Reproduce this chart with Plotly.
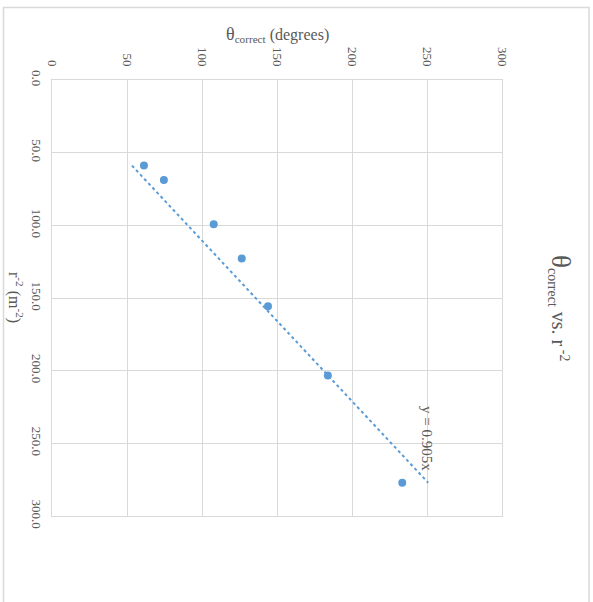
import plotly.graph_objects as go

# Measurements: inverse-square distance and corrected deflection angle
r_inv_sq = [58.9, 68.8, 99.2, 122.9, 155.6, 203.3, 277.1]
theta_correct = [61.3, 74.6, 107.8, 126.5, 144.0, 183.9, 233.5]

# Linear fit through the origin
slope = 0.905
trend_r = [min(r_inv_sq), max(r_inv_sq)]
trend_theta = [slope * v for v in trend_r]

theta_ticks = [0, 50, 100, 150, 200, 250, 300]
r_ticks = [0, 50, 100, 150, 200, 250, 300]

W, H = 593, 602
ML, MR, MT, MB = 52, 91, 80, 86
PW, PH = W - ML - MR, H - MT - MB


def px_x(x):
    return (x - ML) / PW


def px_y(y):
    return (H - MB - y) / PH


BLUE = "#5b9bd5"
GREY = "#595959"
GRID = "#d9d9d9"
FONT = "Liberation Serif"

fig = go.Figure()

fig.add_trace(go.Scatter(
    x=trend_theta, y=trend_r, mode="lines",
    line=dict(color=BLUE, width=2, dash="dot"),
    hoverinfo="skip", showlegend=False,
))
fig.add_trace(go.Scatter(
    x=theta_correct, y=r_inv_sq, mode="markers",
    marker=dict(color=BLUE, size=8),
    showlegend=False,
))

fig.update_layout(
    width=W, height=H,
    margin=dict(l=ML, r=MR, t=MT, b=MB),
    paper_bgcolor="white", plot_bgcolor="white",
    font=dict(family=FONT, color=GREY, size=13),
    xaxis=dict(
        range=[0, 300], side="top", tickvals=theta_ticks,
        ticktext=[str(v) for v in theta_ticks], tickangle=90,
        showgrid=True, gridcolor=GRID, gridwidth=1,
        showline=True, linecolor=GRID, mirror=True,
        zeroline=False, ticks="", ticklabelstandoff=8,
        tickfont=dict(family=FONT, size=13, color=GREY),
    ),
    yaxis=dict(
        range=[300, 0], tickvals=r_ticks,
        ticktext=[f"{v:.1f}" for v in r_ticks], tickangle=90,
        showgrid=True, gridcolor=GRID, gridwidth=1,
        showline=True, linecolor=GRID, mirror=True,
        zeroline=False, ticks="", ticklabelstandoff=3,
        tickfont=dict(family=FONT, size=13, color=GREY),
    ),
)

# Chart area outline
fig.add_shape(
    type="rect", xref="paper", yref="paper",
    x0=px_x(3.5), x1=px_x(589), y0=px_y(620), y1=px_y(7.5),
    line=dict(color="#d9d9d9", width=1.5), fillcolor="rgba(0,0,0,0)",
    layer="below",
)


def label(x, y, text, size, angle=0):
    fig.add_annotation(
        xref="paper", yref="paper", x=px_x(x), y=px_y(y),
        xanchor="center", yanchor="middle",
        text=text, textangle=angle, showarrow=False,
        font=dict(family=FONT, size=size, color=GREY),
    )


# Chart title
label(561, 308,
      '<span style="font-size:27px">θ</span>'
      '<sub>correct</sub> vs. r<sup> -2</sup>', 20, 90)

# Axis titles
label(277, 34, '<span style="font-size:18px">θ</span>'
      '<sub>correct</sub> (degrees)', 16)
label(16, 297, "r<sup>-2</sup> (m<sup>-2</sup>)", 16, 90)

# Trendline equation
label(427, 438, f"y = {slope}x", 15, 90)

fig.write_html("out.html")
